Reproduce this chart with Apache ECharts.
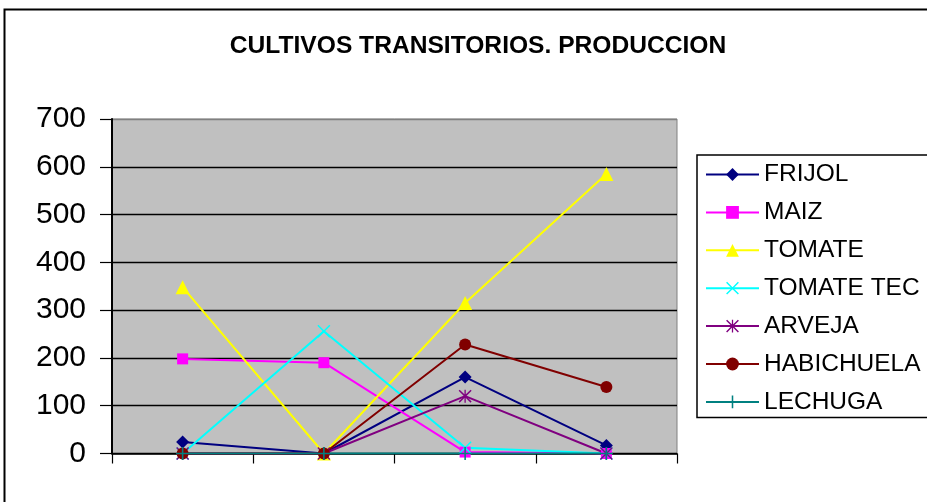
<!DOCTYPE html>
<html>
<head>
<meta charset="utf-8">
<style>
  html, body { margin: 0; padding: 0; background: #ffffff; }
  #chart { width: 927px; height: 502px; }
</style>
<script src="https://cdn.jsdelivr.net/npm/echarts@6/dist/echarts.min.js"></script>
</head>
<body>
<div id="chart"></div>
<script>
const titleText = 'CULTIVOS TRANSITORIOS. PRODUCCION';
const categories = ['1', '2', '3', '4'];
const seriesNames = ['FRIJOL', 'MAIZ', 'TOMATE', 'TOMATE TEC', 'ARVEJA', 'HABICHUELA', 'LECHUGA'];
const frijol = [24, 0, 160, 17];
const maiz = [198, 190, 3, 0];
const tomate = [348, 0, 315, 585];
const tomateTec = [0, 256, 12, 0];
const arveja = [0, 0, 120, 0];
const habichuela = [0, 0, 228, 139];
const lechuga = [0, 0, 0, 0];
const yTicks = [0, 100, 200, 300, 400, 500, 600, 700];

const seriesData = [frijol, maiz, tomate, tomateTec, arveja, habichuela, lechuga];
const colors = ['#000080', '#FF00FF', '#FFFF00', '#00FFFF', '#800080', '#800000', '#008080'];
const xPath = 'M0,0.8L0.8,0L5,4.2L9.2,0L10,0.8L5.8,5L10,9.2L9.2,10L5,5.8L0.8,10L0,9.2L4.2,5Z';
const symbols = [
  'diamond',
  'rect',
  'triangle',
  'path://' + xPath,
  'path://' + xPath + 'M4.5,0L5.5,0L5.5,10L4.5,10Z',
  'circle',
  'path://M4.4,0L5.6,0L5.6,4.4L10,4.4L10,5.6L5.6,5.6L5.6,10L4.4,10L4.4,5.6L0,5.6L0,4.4L4.4,4.4Z'
];
const symbolSizes = [13, 11, 14, 13, 13, 12, 13];

const font = "'Liberation Sans', Arial, sans-serif";

const chart = echarts.init(document.getElementById('chart'), null, { renderer: 'canvas' });
const option = {
  backgroundColor: '#ffffff',
  animation: false,
  title: {
    text: titleText,
    left: 473,
    textAlign: 'center',
    top: 29,
    textStyle: { fontFamily: font, fontSize: 24.6, fontWeight: 'bold', color: '#000' }
  },
  legend: {
    orient: 'vertical',
    left: 697,
    top: 155,
    padding: [7, 40, 3, 8],
    borderColor: '#000',
    borderWidth: 1.5,
    itemWidth: 53,
    itemHeight: 16,
    itemGap: 12.9,
    data: seriesNames,
    textStyle: { fontFamily: font, fontSize: 24.5, color: '#000', lineHeight: 24 }
  },
  grid: {
    left: 112, top: 119, width: 565, height: 334.5,
    show: true, backgroundColor: '#C0C0C0', borderColor: '#808080', borderWidth: 1
  },
  xAxis: {
    type: 'category',
    data: categories,
    boundaryGap: true,
    axisLine: { lineStyle: { color: '#000', width: 1.5 } },
    axisTick: { show: true, length: 10, lineStyle: { color: '#000', width: 1.2 } },
    axisLabel: { show: false },
    splitLine: { show: false }
  },
  yAxis: {
    type: 'value',
    min: yTicks[0],
    max: yTicks[yTicks.length - 1],
    interval: 100,
    axisLine: { show: true, lineStyle: { color: '#000', width: 2 } },
    axisTick: { show: true, length: 12, lineStyle: { color: '#000', width: 1.2 } },
    axisLabel: { fontFamily: font, fontSize: 30, color: '#000', margin: 26 },
    splitLine: { show: true, lineStyle: { color: ['#000', '#000', '#000', '#000', '#000', '#000', '#000', '#808080'], width: 1.3 } }
  },
  series: seriesNames.map((name, i) => ({
    name: name,
    type: 'line',
    data: seriesData[i],
    symbol: symbols[i],
    symbolSize: symbolSizes[i],
    showAllSymbol: true,
    lineStyle: { color: colors[i], width: 2 },
    itemStyle: { color: colors[i], borderWidth: 0 },
    emphasis: { disabled: true }
  })),
  graphic: [{
    type: 'rect',
    shape: { x: 4.5, y: 9.5, width: 1000, height: 1000 },
    style: { fill: 'none', stroke: '#000', lineWidth: 2 },
    silent: true
  }]
};
chart.setOption(option);
</script>
</body>
</html>
